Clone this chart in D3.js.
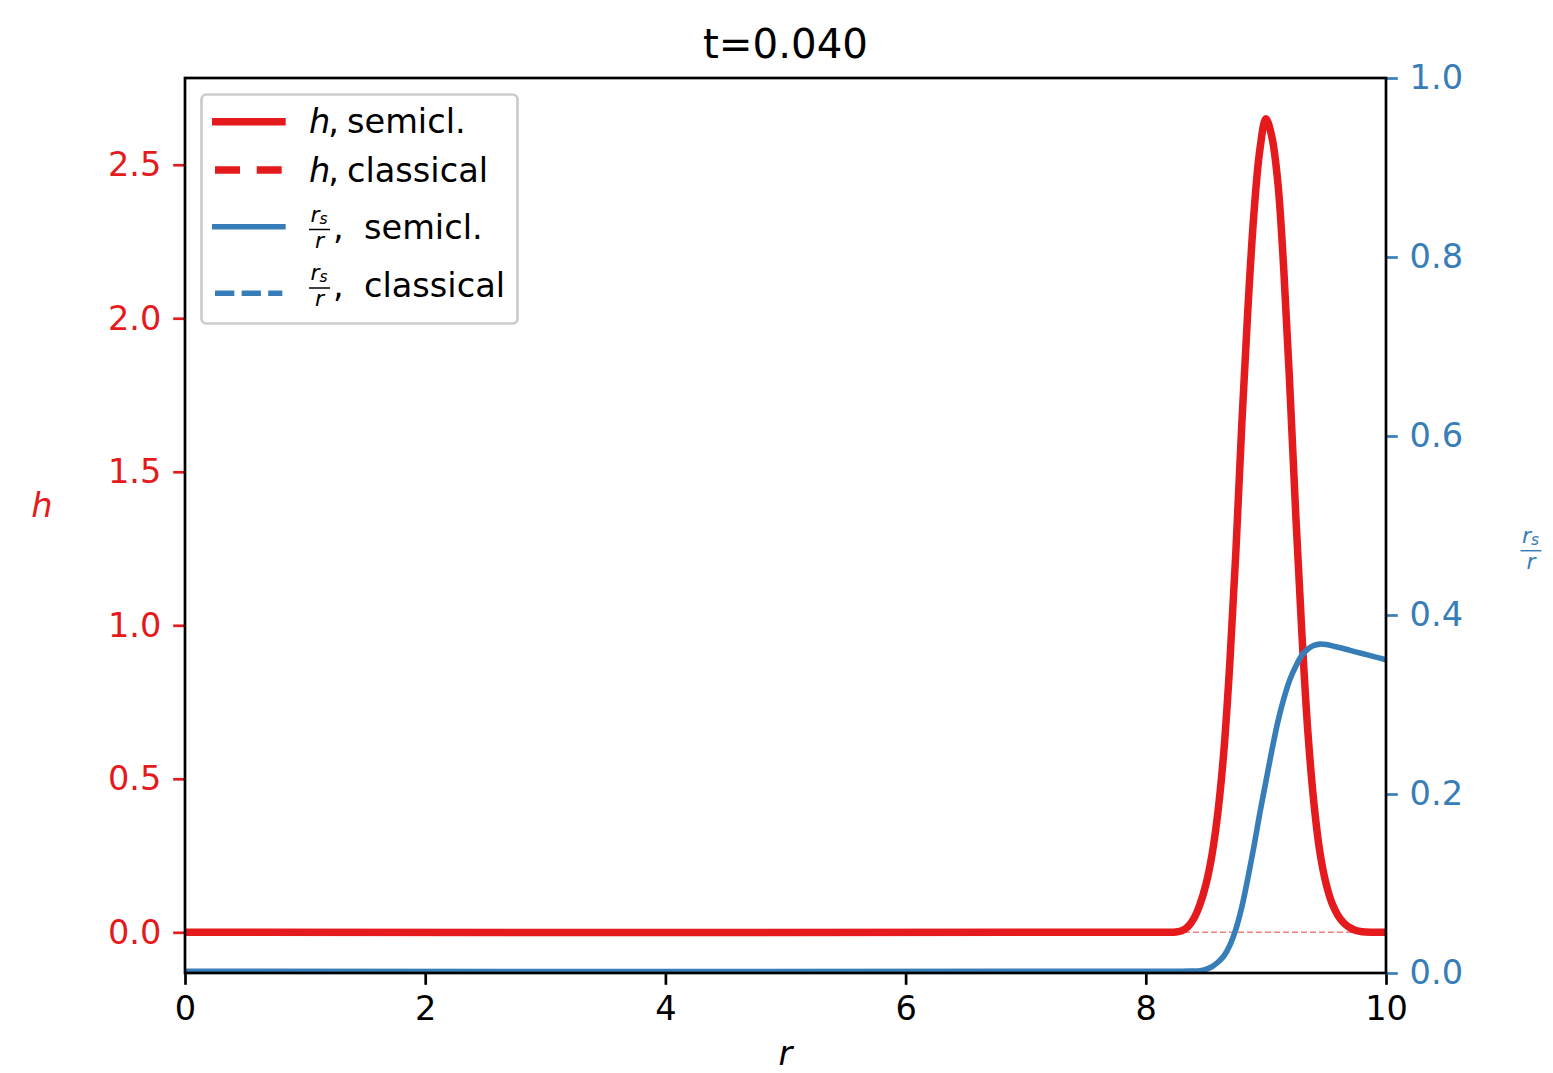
<!DOCTYPE html>
<html>
<head>
<meta charset="utf-8">
<script src="https://cdn.jsdelivr.net/npm/d3@7"></script>
<style>
  body { margin: 0; background: #fff; }
  svg { display: block; }
  text { font-family: "DejaVu Sans", sans-serif; }
</style>
</head>
<body>
<svg id="chart" width="1553" height="1073"></svg>
<script>
// ---- data ----
const titleText = "t=0.040";

// h, semiclassical
const rH = [0, 8.0, 8.25, 8.3, 8.35, 8.4, 8.45, 8.5, 8.55, 8.6, 8.65, 8.7, 8.75, 8.8, 8.85, 8.9, 8.95,
            9.0, 9.05, 9.1, 9.15, 9.2, 9.25, 9.3, 9.35, 9.4, 9.45, 9.5, 9.55, 9.6, 9.65, 9.7, 9.75, 9.8, 10];
const hSemi = [0, 0, 0.001, 0.005, 0.018, 0.045, 0.09, 0.155, 0.25, 0.39, 0.59, 0.88, 1.24, 1.66, 2.03, 2.34, 2.55,
               2.65, 2.59, 2.44, 2.15, 1.77, 1.35, 0.97, 0.65, 0.42, 0.26, 0.16, 0.095, 0.055, 0.03, 0.015, 0.006, 0.002, 0];

// r_s / r, semiclassical
const rRs = [0, 8.3, 8.45, 8.5, 8.55, 8.6, 8.65, 8.7, 8.75, 8.8, 8.85, 8.9, 8.95, 9.0, 9.05, 9.1, 9.15,
             9.2, 9.25, 9.3, 9.35, 9.4, 9.45, 9.5, 9.6, 9.7, 9.8, 9.9, 10];
const rsSemi = [0.002, 0.002, 0.0025, 0.004, 0.007, 0.012, 0.019, 0.031, 0.049, 0.074, 0.106, 0.141, 0.179, 0.214, 0.249, 0.281, 0.307,
                0.328, 0.343, 0.355, 0.362, 0.366, 0.3675, 0.367, 0.364, 0.3605, 0.357, 0.3535, 0.350];

// classical solutions
const rClassical = [0, 10];
const hClassical = [0, 0];
const rsClassical = [0, 0];

const xTicks = [0, 2, 4, 6, 8, 10];
const hTicks = [0, 0.5, 1.0, 1.5, 2.0, 2.5];
const rsTicks = [0, 0.2, 0.4, 0.6, 0.8, 1.0];

const RED = "#e41a1c";
const BLUE = "#377eb8";
const FONT = 33.6;

// ---- layout ----
const L = 185, R = 1386, T = 78, B = 973;
const svg = d3.select("#chart");
svg.append("rect").attr("width", 1553).attr("height", 1073).attr("fill", "#fff");

const x = d3.scaleLinear().domain([0, 10]).range([L, R]);
const yH = d3.scaleLinear().domain([-0.1325, 2.7825]).range([B, T]);
const yRs = d3.scaleLinear().domain([0, 1]).range([B, T]);

svg.append("clipPath").attr("id", "plotclip")
  .append("rect").attr("x", L).attr("y", T).attr("width", R - L).attr("height", B - T);

const plot = svg.append("g").attr("clip-path", "url(#plotclip)");

const smooth = d3.curveCatmullRom.alpha(0.5);
const lineH = d3.line().x(d => x(d[0])).y(d => yH(d[1])).curve(smooth);
const lineRs = d3.line().x(d => x(d[0])).y(d => yRs(d[1])).curve(smooth);

// classical h (thin, faint dashed)
plot.append("path")
  .datum(d3.zip(rClassical, hClassical))
  .attr("d", lineH)
  .attr("fill", "none").attr("stroke", RED).attr("stroke-opacity", 0.55)
  .attr("stroke-width", 1.6).attr("stroke-dasharray", "6 3");

// semiclassical h
plot.append("path")
  .datum(d3.zip(rH, hSemi))
  .attr("d", lineH)
  .attr("fill", "none").attr("stroke", RED).attr("stroke-width", 7.5)
  .attr("stroke-linejoin", "round").attr("stroke-linecap", "butt");

// classical r_s/r (thin, faint dashed)
plot.append("path")
  .datum(d3.zip(rClassical, rsClassical))
  .attr("d", lineRs)
  .attr("fill", "none").attr("stroke", BLUE).attr("stroke-opacity", 0.55)
  .attr("stroke-width", 1.6).attr("stroke-dasharray", "6 3");

// semiclassical r_s/r
plot.append("path")
  .datum(d3.zip(rRs, rsSemi))
  .attr("d", lineRs)
  .attr("fill", "none").attr("stroke", BLUE).attr("stroke-width", 5.6)
  .attr("stroke-linejoin", "round");

// ---- axes ----
function styleAxis(g, color) {
  g.select(".domain").remove();
  g.selectAll(".tick line").attr("stroke", color).attr("stroke-width", 2.7);
  g.selectAll(".tick text").attr("fill", color)
    .style("font-family", '"DejaVu Sans", sans-serif').style("font-size", FONT + "px");
}

const gx = svg.append("g").attr("transform", `translate(0,${B})`)
  .call(d3.axisBottom(x).tickValues(xTicks).tickFormat(d3.format("d")).tickSize(11.8).tickPadding(11.8));
styleAxis(gx, "#000");

const gyL = svg.append("g").attr("transform", `translate(${L},0)`)
  .call(d3.axisLeft(yH).tickValues(hTicks).tickFormat(d3.format(".1f")).tickSize(11.8).tickPadding(11.8));
styleAxis(gyL, RED);

const gyR = svg.append("g").attr("transform", `translate(${R},0)`)
  .call(d3.axisRight(yRs).tickValues(rsTicks).tickFormat(d3.format(".1f")).tickSize(11.8).tickPadding(11.8));
styleAxis(gyR, BLUE);

// spines
svg.append("rect").attr("x", L).attr("y", T).attr("width", R - L).attr("height", B - T)
  .attr("fill", "none").attr("stroke", "#000").attr("stroke-width", 2.7);

// ---- titles and labels ----
svg.append("text").attr("x", (L + R) / 2).attr("y", 57.5).attr("text-anchor", "middle")
  .style("font-size", "40.3px").attr("fill", "#000").text(titleText);

svg.append("text").attr("x", (L + R) / 2).attr("y", 1065).attr("text-anchor", "middle")
  .style("font-size", FONT + "px").style("font-style", "italic").attr("fill", "#000").text("r");

svg.append("text").attr("x", 42).attr("y", 517).attr("text-anchor", "middle")
  .style("font-size", FONT + "px").style("font-style", "italic").attr("fill", RED).text("h");

// r_s / r drawn as a stacked fraction: numerator, bar, denominator
function fraction(g, cx, barY, color) {
  const num = g.append("text").attr("x", cx - 0.5).attr("y", barY - 8).attr("text-anchor", "middle")
    .attr("fill", color).style("font-size", "22px").style("font-style", "italic");
  num.append("tspan").text("r");
  num.append("tspan").attr("dy", 2).style("font-size", "15.5px").text("s");
  g.append("line").attr("x1", cx - 10.5).attr("x2", cx + 10.5).attr("y1", barY).attr("y2", barY)
    .attr("stroke", color).attr("stroke-width", 1.5);
  g.append("text").attr("x", cx).attr("y", barY + 18).attr("text-anchor", "middle")
    .attr("fill", color).style("font-size", "22px").style("font-style", "italic").text("r");
}

fraction(svg, 1531, 550.7, BLUE);

// ---- legend ----
const lg = svg.append("g");
lg.append("rect").attr("x", 201.5).attr("y", 94.5).attr("width", 316).attr("height", 229)
  .attr("rx", 5).attr("fill", "#fff").attr("fill-opacity", 0.8)
  .attr("stroke", "#cccccc").attr("stroke-width", 2.7);

const legendRows = [
  { color: RED, width: 7.5, dash: null, y: 121.7, base: 133.3, sym: "h", text: "semicl." },
  { color: RED, width: 7.5, dash: "25 16.7", y: 170, base: 181.7, sym: "h", text: "classical" },
  { color: BLUE, width: 5.6, dash: null, y: 226.7, base: 238.5, sym: "frac", text: "semicl." },
  { color: BLUE, width: 5.6, dash: "19.3 7.3", y: 293.3, base: 297, sym: "frac", text: "classical" }
];

legendRows.forEach(row => {
  const x1 = row.dash ? 215 : 212;
  const x2 = row.dash ? 282.3 : 285.7;
  lg.append("line").attr("x1", x1).attr("x2", x2).attr("y1", row.y).attr("y2", row.y)
    .attr("stroke", row.color).attr("stroke-width", row.width)
    .attr("stroke-dasharray", row.dash);
  if (row.sym === "h") {
    const t = lg.append("text").attr("x", 309).attr("y", row.base).style("font-size", FONT + "px")
      .attr("fill", "#000");
    t.append("tspan").style("font-style", "italic").text("h");
    t.append("tspan").attr("dx", -2).text(",");
    lg.append("text").attr("x", 347).attr("y", row.base).style("font-size", FONT + "px")
      .attr("fill", "#000").text(row.text);
  } else {
    fraction(lg, 319.5, row.base - 9, "#000");
    lg.append("text").attr("x", 333).attr("y", row.base).style("font-size", FONT + "px")
      .attr("fill", "#000").text(",");
    lg.append("text").attr("x", 364).attr("y", row.base).style("font-size", FONT + "px")
      .attr("fill", "#000").text(row.text);
  }
});
</script>
</body>
</html>
